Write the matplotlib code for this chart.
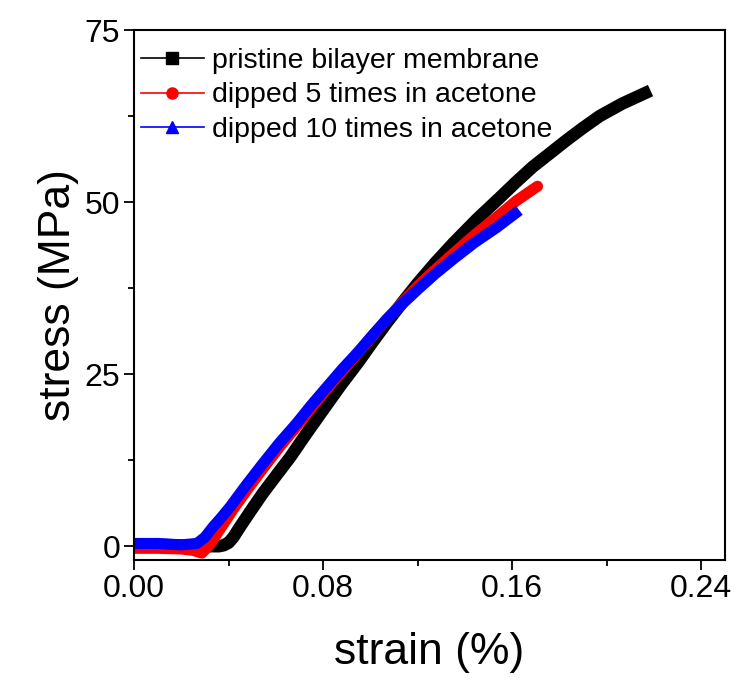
import numpy as np
import matplotlib.pyplot as plt
from matplotlib.lines import Line2D

plt.rcParams['font.family'] = ['Liberation Sans', 'DejaVu Sans']

# pristine bilayer membrane
strain_0 = [0, 0.01, 0.02, 0.03, 0.036, 0.038, 0.040, 0.042, 0.0448, 0.0495, 0.0545,
            0.060, 0.066, 0.073, 0.080, 0.0875, 0.095, 0.101, 0.107, 0.1135, 0.12,
            0.1275, 0.135, 0.145, 0.1546, 0.1616, 0.1686, 0.176, 0.183, 0.190,
            0.197, 0.2065, 0.2185]
stress_0 = [0.2, 0.2, 0.1, 0.0, 0.0, 0.15, 0.5, 1.3, 2.8, 5.2, 7.7,
            10.2, 12.9, 16.4, 19.8, 23.4, 26.8, 29.7, 32.5, 35.4, 38.2,
            41.2, 44.0, 47.5, 50.6, 52.9, 55.1, 57.1, 59.0, 60.8,
            62.5, 64.3, 66.2]

# dipped 5 times
strain_5 = [0, 0.01, 0.02, 0.025, 0.0287, 0.032, 0.037, 0.042, 0.0485, 0.055, 0.062,
            0.069, 0.0755, 0.082, 0.0885, 0.095, 0.101, 0.107, 0.1135, 0.12, 0.1275,
            0.135, 0.144, 0.1534, 0.1618, 0.1707]
stress_5 = [-0.3, -0.3, -0.4, -0.6, -1.0, 0.2, 2.8, 5.4, 8.5, 11.5, 14.6,
            17.5, 20.3, 23.0, 25.6, 28.2, 30.6, 33.0, 35.4, 37.8, 40.2,
            42.5, 45.2, 47.8, 50.2, 52.3]

# dipped 10 times
strain_10 = [0, 0.01, 0.02, 0.0266, 0.030, 0.0334, 0.037, 0.0406, 0.0475, 0.0545,
             0.0615, 0.0689, 0.075, 0.0815, 0.088, 0.095, 0.101, 0.107, 0.1135,
             0.12, 0.1275, 0.135, 0.144, 0.1534, 0.163]
stress_10 = [0.4, 0.4, 0.2, 0.4, 1.3, 2.8, 4.2, 5.7, 8.9, 12.0,
             15.0, 17.9, 20.5, 23.1, 25.7, 28.3, 30.7, 33.0, 35.2,
             37.3, 39.6, 41.7, 44.1, 46.3, 48.8]

labels = ['pristine bilayer membrane', 'dipped 5 times in acetone',
          'dipped 10 times in acetone']
colors = ['black', 'red', 'blue']
markers = ['s', 'o', '^']

fig = plt.figure(figsize=(7.4, 6.82), dpi=100)
ax = fig.add_axes([0.1811, 0.1789, 0.7986, 0.7771])

ax.plot(strain_0, stress_0, color='black', lw=9, solid_capstyle='butt', solid_joinstyle='round')
ax.plot(strain_5, stress_5, color='red', lw=8, solid_capstyle='round', solid_joinstyle='round')
ax.plot(strain_10, stress_10, color='blue', lw=8, solid_capstyle='butt', solid_joinstyle='round')

ax.set_xlim(0, 0.25)
ax.set_ylim(-2, 75)
ax.set_xticks([0, 0.08, 0.16, 0.24])
ax.set_xticks([0.04, 0.12, 0.20], minor=True)
ax.set_yticks([0, 25, 50, 75])
ax.set_yticks([12.5, 37.5, 62.5], minor=True)
ax.set_xticklabels(['0.00', '0.08', '0.16', '0.24'])
ax.tick_params(which='major', direction='out', length=7, width=1.3, labelsize=23, pad=3)
ax.tick_params(which='minor', direction='out', length=4, width=1.3)
for s in ax.spines.values():
    s.set_linewidth(1.5)

ax.set_xlabel('strain (%)', fontsize=32, labelpad=20)
ax.set_ylabel('stress (MPa)', fontsize=32, labelpad=4)

handles = [Line2D([], [], color=c, lw=1.2, marker=m, markersize=8) for c, m in zip(colors, markers)]
ax.legend(handles, labels, loc='upper left', bbox_to_anchor=(-0.012, 0.993), frameon=False,
          fontsize=20.5, handlelength=2.2, handletextpad=0.3, labelspacing=0.3,
          borderaxespad=0.3, borderpad=0.2)

fig.savefig('out.png', dpi=100)
